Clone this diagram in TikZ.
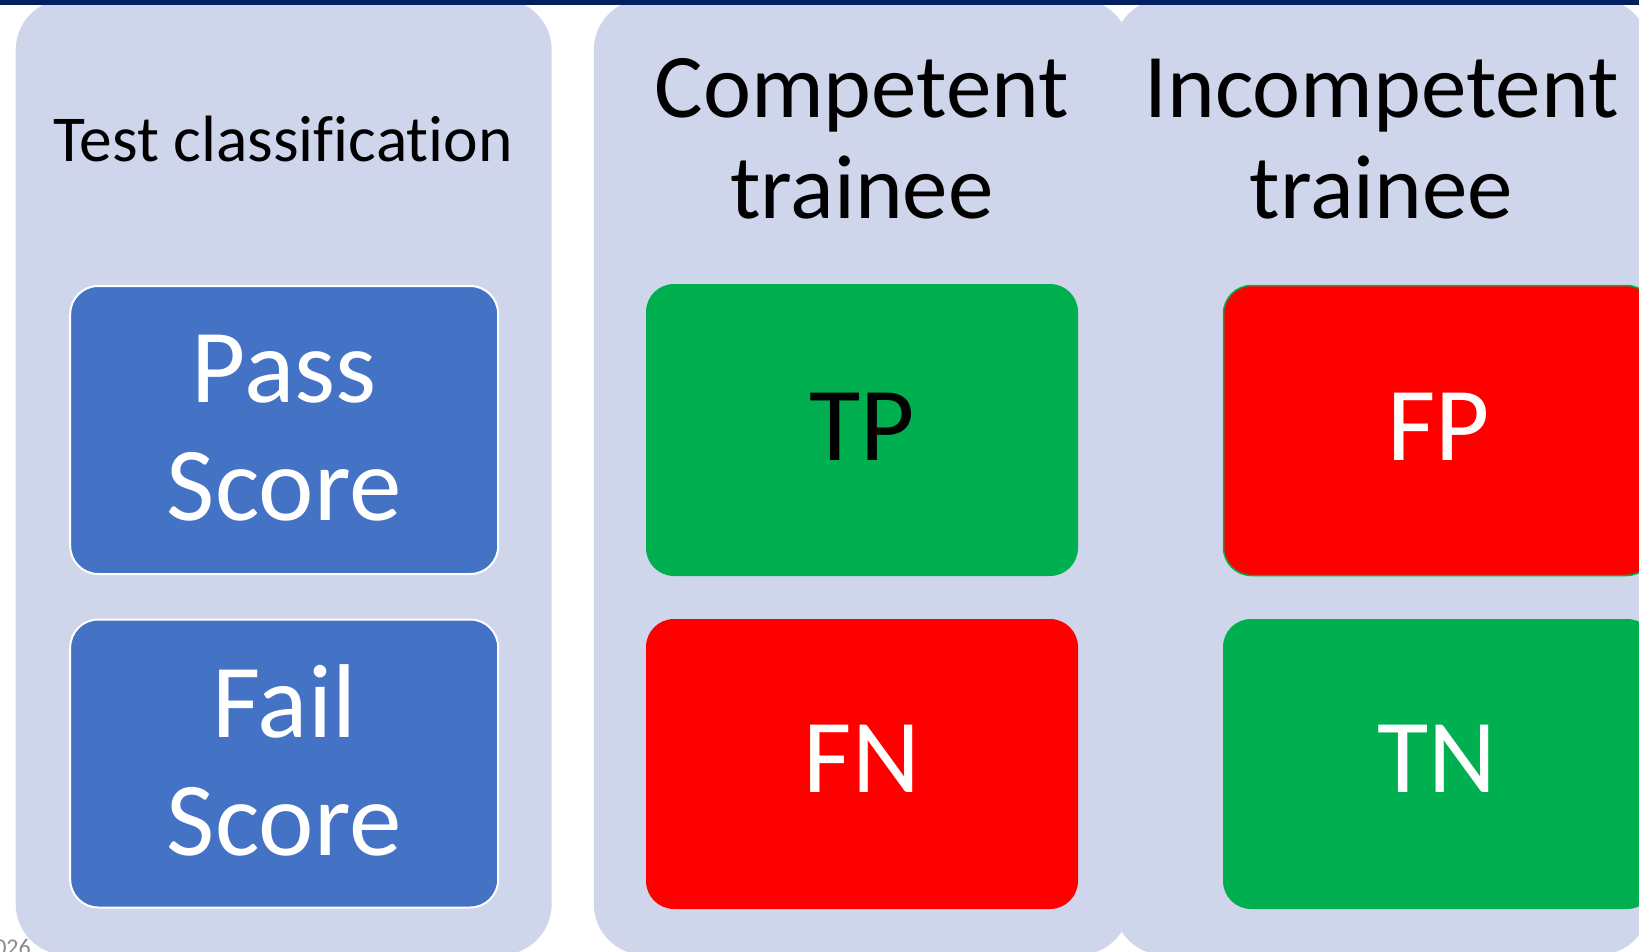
\documentclass[tikz,border=0pt]{standalone}
\usepackage{fontspec}
\setmainfont{Carlito}[Ligatures=NoCommon]
\definecolor{colfill}{HTML}{CFD5EA}
\definecolor{navybar}{HTML}{002060}
\definecolor{scoreblue}{HTML}{4472C4}
\definecolor{okgreen}{HTML}{00B050}
\definecolor{badred}{HTML}{FF0000}
\definecolor{footgray}{HTML}{8A8A8A}
\begin{document}
\begin{tikzpicture}[x=1pt,y=-1pt,
  column/.style={fill=colfill, rounded corners=51pt, minimum width=536pt,
    minimum height=956pt, inner sep=0pt, outer sep=0pt},
  cell/.style={rounded corners=28pt, inner sep=0pt, outer sep=0pt,
    minimum width=432pt, minimum height=291pt},
  scorecell/.style={cell, fill=scoreblue, draw=white, line width=2pt,
    minimum width=428pt, minimum height=288pt},
  goodcell/.style={cell, fill=okgreen},
  badcell/.style={cell, fill=badred},
  headtext/.style={anchor=base, inner sep=0pt, align=center,
    font=\fontsize{91}{101}\selectfont},
  celltext/.style={anchor=base, inner sep=0pt, align=center,
    font=\fontsize{105}{118}\selectfont},
]
\useasboundingbox (0,0) rectangle (1639,952);
\clip (0,0) rectangle (1639,952);

% the three column panels
\node[column] (colTest) at (283.7,477) {};
\node[column] (colComp) at (861.8,477) {};
\node[column] (colIncomp) at (1381.5,477) {};

% column headings (multi-line nodes sit on their last baseline)
\node[anchor=base, inner sep=0pt, font=\fontsize{65.5}{78}\selectfont]
  (hdrTest) at (283.2,162) {Test classification};
\node[headtext] (hdrComp) at (861.8,219) {Competent\\trainee};
\node[headtext] (hdrIncomp) at (1381.5,219) {Incompetent\\trainee};

% test outcome boxes
\node[scorecell] (pass) at (284.2,430) {};
\node[scorecell] (fail) at (284.2,763.5) {};
\node[celltext, white] (passTxt) at (284.2,520) {Pass\\Score};
\node[celltext, white] (failTxt) at (284.2,855) {Fail\\Score};

% confusion matrix cells
\node[goodcell, minimum height=292pt] (tp) at (862,430) {};
\node[badcell, minimum height=290pt] (fn) at (862,764) {};
\node[badcell, draw=okgreen, line width=1.5pt, minimum width=431pt,
  minimum height=290pt] (fp) at (1439,430.5) {};
\node[goodcell, minimum height=290pt] (tn) at (1439,764) {};
\node[celltext, black] (tpTxt) at (862,460) {TP};
\node[celltext, white] (fnTxt) at (862,792) {FN};
\node[celltext, white] (fpTxt) at (1439,460) {FP};
\node[celltext, white] (tnTxt) at (1437,792) {TN};

% footer date, cut by the page edge
\node[anchor=base east, inner sep=0pt, text=footgray,
  font=\fontsize{24}{28}\selectfont] (date) at (31,955) {2026};

% title bar along the top
\fill[navybar] (0,0) rectangle (1639,5);
\end{tikzpicture}
\end{document}
